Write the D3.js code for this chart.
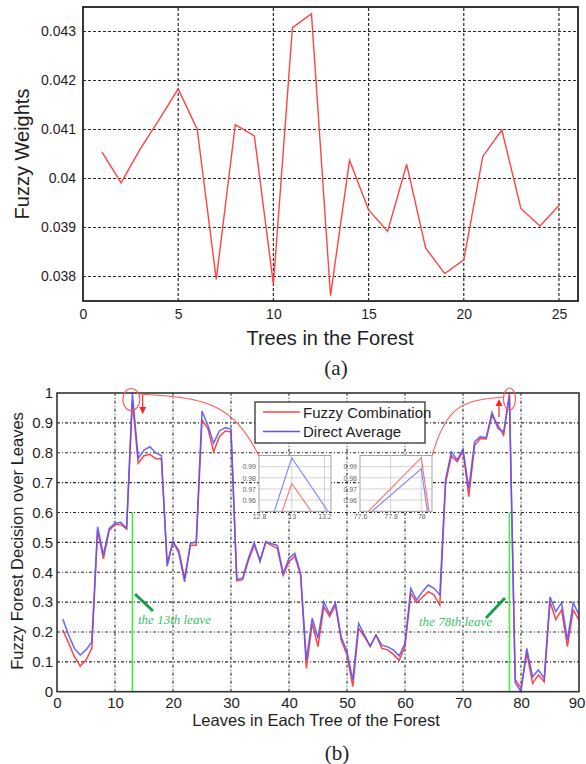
<!DOCTYPE html>
<html><head><meta charset="utf-8">
<script src="https://cdn.jsdelivr.net/npm/d3@7"></script>
<style>body{margin:0;background:#fff}text{font-family:"Liberation Sans",Arial,sans-serif}</style>
</head><body><svg id="c" width="586" height="764"></svg>
<script>
// ---------- data: chart (a) ----------
const trees = d3.range(1, 26);
const fuzzyWeights = [0.04054,0.03991,0.0406,0.0412,0.04183,0.04100,0.03794,0.04110,0.04087,0.03784,
  0.04308,0.04336,0.03761,0.04037,0.03936,0.03892,0.04029,0.03858,0.03806,0.03834,
  0.04045,0.04099,0.03939,0.03903,0.03945];
const weightTicks = [0.038,0.039,0.04,0.041,0.042,0.043];
const treeTicks = [0,5,10,15,20,25];

// ---------- data: chart (b) ----------
const leaves = d3.range(1, 91);
const fuzzyCombination = [0.207,0.163,0.117,0.086,0.106,0.145,0.54,0.445,0.54,0.56,
  0.56,0.545,0.975,0.765,0.79,0.795,0.78,0.78,0.43,0.50,
  0.474,0.38,0.49,0.49,0.91,0.882,0.804,0.854,0.873,0.87,
  0.371,0.375,0.439,0.49,0.441,0.50,0.49,0.48,0.39,0.435,
  0.454,0.39,0.078,0.229,0.151,0.285,0.251,0.29,0.173,0.123,
  0.017,0.212,0.184,0.151,0.19,0.145,0.14,0.125,0.105,0.151,
  0.329,0.298,0.316,0.335,0.324,0.29,0.70,0.79,0.77,0.806,
  0.653,0.824,0.848,0.846,0.926,0.893,0.859,0.998,0.04,0.012,
  0.129,0.028,0.056,0.033,0.301,0.242,0.274,0.151,0.274,0.24];
const directAverage = [0.243,0.19,0.145,0.123,0.14,0.167,0.552,0.458,0.547,0.564,
  0.567,0.547,0.998,0.781,0.809,0.82,0.80,0.79,0.42,0.505,
  0.463,0.368,0.497,0.50,0.94,0.893,0.832,0.873,0.884,0.879,
  0.376,0.38,0.447,0.50,0.435,0.503,0.495,0.49,0.396,0.447,
  0.463,0.396,0.106,0.246,0.179,0.301,0.26,0.298,0.184,0.134,
  0.039,0.229,0.19,0.153,0.19,0.156,0.15,0.14,0.12,0.162,
  0.346,0.307,0.335,0.357,0.346,0.324,0.71,0.803,0.776,0.812,
  0.681,0.837,0.854,0.85,0.935,0.882,0.87,0.988,0.03,0.0,
  0.145,0.05,0.073,0.045,0.318,0.268,0.298,0.173,0.298,0.257];
const leafTicks = [0,10,20,30,40,50,60,70,80,90];
const decisionTicks = [0,0.1,0.2,0.3,0.4,0.5,0.6,0.7,0.8,0.9,1];
const inset1XTicks = [12.8,13,13.2];
const inset2XTicks = [77.6,77.8,78];
const insetYTicks = [0.96,0.97,0.98,0.99];
const markedLeaves = [13,78];
const seriesNames = ["Fuzzy Combination","Direct Average"];

const RED = "#ff4444", BLUE = "#5555ff", TXT = "#1e1e1e";
const svg = d3.select("#c");
svg.append("rect").attr("width",586).attr("height",764).attr("fill","#fff");
const fmt = d3.format("");

// ================= chart (a) =================
const xA = d3.scaleLinear().domain([0,26]).range([83,578]);
const yA = d3.scaleLinear().domain([0.0375,0.0435]).range([301,7]);
const gA = svg.append("g");
gA.selectAll("line.hg").data(weightTicks).join("line")
  .attr("x1",xA.range()[0]).attr("x2",xA.range()[1])
  .attr("y1",d=>yA(d)).attr("y2",d=>yA(d))
  .attr("stroke","#2a2a2a").attr("stroke-width",1.2).attr("stroke-dasharray","3,2");
gA.selectAll("line.vg").data(treeTicks.filter(d=>d>0)).join("line")
  .attr("y1",yA.range()[0]).attr("y2",yA.range()[1])
  .attr("x1",d=>xA(d)).attr("x2",d=>xA(d))
  .attr("stroke","#2a2a2a").attr("stroke-width",1.2).attr("stroke-dasharray","3,2");
gA.append("path").datum(fuzzyWeights)
  .attr("d", d3.line().x((d,i)=>xA(trees[i])).y(d=>yA(d)))
  .attr("fill","none").attr("stroke",RED).attr("stroke-width",1.4);
gA.append("rect").attr("x",83).attr("y",7).attr("width",495).attr("height",294)
  .attr("fill","none").attr("stroke","#222").attr("stroke-width",1.8);
const axA1 = gA.append("g").attr("transform","translate(83,0)")
  .call(d3.axisLeft(yA).tickValues(weightTicks).tickFormat(fmt).tickSize(0).tickPadding(7));
const axA2 = gA.append("g").attr("transform","translate(0,301)")
  .call(d3.axisBottom(xA).tickValues(treeTicks).tickFormat(fmt).tickSize(0).tickPadding(8));
[axA1,axA2].forEach(a=>{a.select(".domain").remove();
  a.selectAll("text").attr("font-size",14).attr("fill",TXT).style("font-family","Liberation Sans, Arial");});
gA.append("text").attr("transform","translate(29,154) rotate(-90)").attr("text-anchor","middle")
  .attr("font-size",20).attr("fill",TXT).text("Fuzzy Weights");
gA.append("text").attr("x",330).attr("y",345).attr("text-anchor","middle")
  .attr("font-size",20).attr("fill",TXT).text("Trees in the Forest");
svg.append("text").attr("x",336).attr("y",375).attr("text-anchor","middle")
  .style("font-family","Liberation Serif, Times New Roman, serif").attr("font-size",21).attr("fill",TXT).text("(a)");

// ================= chart (b) =================
const xB = d3.scaleLinear().domain([0,90]).range([57,579]);
const yB = d3.scaleLinear().domain([0,1]).range([691.7,393]);
const gB = svg.append("g");
gB.selectAll("line.hg").data(decisionTicks.filter(d=>d>0&&d<1)).join("line")
  .attr("x1",xB.range()[0]).attr("x2",xB.range()[1])
  .attr("y1",d=>yB(d)).attr("y2",d=>yB(d))
  .attr("stroke","#2a2a2a").attr("stroke-width",1.1).attr("stroke-dasharray","3,2,1,2");
gB.selectAll("line.vg").data(leafTicks.filter(d=>d>0&&d<90)).join("line")
  .attr("y1",yB.range()[0]).attr("y2",yB.range()[1])
  .attr("x1",d=>xB(d)).attr("x2",d=>xB(d))
  .attr("stroke","#2a2a2a").attr("stroke-width",1.1).attr("stroke-dasharray","3,2,1,2");

// green markers
gB.selectAll("line.gm").data(markedLeaves).join("line")
  .attr("x1",d=>xB(d)).attr("x2",d=>xB(d)).attr("y1",yB(0)).attr("y2",yB(0.6))
  .attr("stroke","#44ee44").attr("stroke-width",1.6);

const lineB = d3.line().x((d,i)=>xB(leaves[i])).y(d=>yB(d));
gB.append("path").datum(fuzzyCombination).attr("d",lineB)
  .attr("fill","none").attr("stroke",RED).attr("stroke-width",1.5);
gB.append("path").datum(directAverage).attr("d",lineB)
  .attr("fill","none").attr("stroke",BLUE).attr("stroke-width",1.5).attr("stroke-opacity",0.9);

gB.append("rect").attr("x",57).attr("y",393).attr("width",522).attr("height",298.7)
  .attr("fill","none").attr("stroke","#333").attr("stroke-width",1.6);
const axB1 = gB.append("g").attr("transform","translate(57,0)")
  .call(d3.axisLeft(yB).tickValues(decisionTicks).tickFormat(fmt).tickSize(0).tickPadding(4));
const axB2 = gB.append("g").attr("transform","translate(0,691.7)")
  .call(d3.axisBottom(xB).tickValues(leafTicks).tickFormat(fmt).tickSize(0).tickPadding(6));
[axB1,axB2].forEach(a=>{a.select(".domain").remove();
  a.selectAll("text").attr("font-size",15).attr("fill",TXT).style("font-family","Liberation Sans, Arial");});
axB2.selectAll(".tick").filter(d=>d===90).select("text").attr("dx",-2.5);
gB.append("text").attr("transform","translate(23,541) rotate(-90)").attr("text-anchor","middle")
  .attr("font-size",16.5).attr("fill",TXT).text("Fuzzy Forest Decision over Leaves");
gB.append("text").attr("x",316).attr("y",726).attr("text-anchor","middle")
  .attr("font-size",16.5).attr("fill",TXT).text("Leaves in Each Tree of the Forest");
svg.append("text").attr("x",337).attr("y",760).attr("text-anchor","middle")
  .style("font-family","Liberation Serif, Times New Roman, serif").attr("font-size",21).attr("fill",TXT).text("(b)");

// annotations (green)
const ann = [{seg:[[135,594],[153,611]], tx:138, ty:624, label:"the 13th leave"},
             {seg:[[505,598],[486,618]], tx:419, ty:626, label:"the 78th leave"}];
ann.forEach(a=>{
  gB.append("line").attr("x1",a.seg[0][0]).attr("y1",a.seg[0][1]).attr("x2",a.seg[1][0]).attr("y2",a.seg[1][1])
    .attr("stroke","#16a04a").attr("stroke-width",3);
  gB.append("text").attr("x",a.tx).attr("y",a.ty).attr("font-size",13).attr("font-style","italic")
    .style("font-family","Liberation Serif, Times New Roman, serif").attr("fill","#3cbf6a").text(a.label);
});

// red circles + arrows + connectors
const PINK = "#ff5a5a";
gB.append("ellipse").attr("cx",131.3).attr("cy",399.5).attr("rx",8.5).attr("ry",11)
  .attr("fill","none").attr("stroke",PINK).attr("stroke-width",1.2);
gB.append("ellipse").attr("cx",509.5).attr("cy",399).attr("rx",6).attr("ry",11)
  .attr("fill","none").attr("stroke",PINK).attr("stroke-width",1.2);
gB.append("line").attr("x1",142.7).attr("x2",142.7).attr("y1",395).attr("y2",408).attr("stroke","#f22").attr("stroke-width",1.2);
gB.append("path").attr("d","M139.2,407 L146.2,407 L142.7,414 Z").attr("fill","#f22");
gB.append("line").attr("x1",499).attr("x2",499).attr("y1",417).attr("y2",405).attr("stroke","#f22").attr("stroke-width",1.2);
gB.append("path").attr("d","M495.5,406 L502.5,406 L499,399 Z").attr("fill","#f22");
gB.append("path").attr("d","M140,394 C205,398 232,402 259,456").attr("fill","none").attr("stroke",PINK).attr("stroke-width",1.1);
gB.append("path").attr("d","M432,456 C446,406 462,400 504,397").attr("fill","none").attr("stroke",PINK).attr("stroke-width",1.1);

// legend
const lg = gB.append("g");
lg.append("rect").attr("x",255).attr("y",402).attr("width",170).attr("height",41)
  .attr("fill","#fff").attr("stroke","#333").attr("stroke-width",1.3);
[RED,BLUE].forEach((c,i)=>{
  const y = 412 + i*19.5;
  lg.append("line").attr("x1",263).attr("x2",300).attr("y1",y).attr("y2",y).attr("stroke",c).attr("stroke-width",1.4);
  lg.append("text").attr("x",303).attr("y",y+5.5).attr("font-size",15).attr("fill",TXT).text(seriesNames[i]);
});

// insets
function inset(x0, xdom, xticks, id){
  const xs = d3.scaleLinear().domain(xdom).range([x0, x0+72]);
  const ys = d3.scaleLinear().domain([0.95,1.0]).range([511.3,455.5]);
  const g = gB.append("g");
  g.append("rect").attr("x",x0).attr("y",455.5).attr("width",72).attr("height",55.8).attr("fill","#fff");
  g.selectAll("line.ih").data(insetYTicks).join("line")
    .attr("x1",x0).attr("x2",x0+72).attr("y1",d=>ys(d)).attr("y2",d=>ys(d)).attr("stroke","#c8c8c8").attr("stroke-width",0.8);
  g.selectAll("line.iv").data(xticks.slice(1)).join("line")
    .attr("y1",455.5).attr("y2",511.3).attr("x1",d=>xs(d)).attr("x2",d=>xs(d)).attr("stroke","#c8c8c8").attr("stroke-width",0.8);
  svg.append("clipPath").attr("id",id).append("rect").attr("x",x0).attr("y",455.5).attr("width",72).attr("height",55.8);
  const ln = d3.line().x((d,i)=>xs(leaves[i])).y(d=>ys(d));
  const cg = g.append("g").attr("clip-path",`url(#${id})`);
  cg.append("path").datum(fuzzyCombination).attr("d",ln).attr("fill","none").attr("stroke","#ff7070").attr("stroke-width",1.1);
  cg.append("path").datum(directAverage).attr("d",ln).attr("fill","none").attr("stroke","#8080ff").attr("stroke-width",1.1);
  g.append("rect").attr("x",x0).attr("y",455.5).attr("width",72).attr("height",55.8)
    .attr("fill","none").attr("stroke","#999").attr("stroke-width",0.9);
  const a1 = g.append("g").attr("transform",`translate(${x0},0)`)
    .call(d3.axisLeft(ys).tickValues(insetYTicks).tickFormat(d3.format(".2f")).tickSize(0).tickPadding(3));
  const a2 = g.append("g").attr("transform","translate(0,511.3)")
    .call(d3.axisBottom(xs).tickValues(xticks).tickFormat(fmt).tickSize(0).tickPadding(3));
  [a1,a2].forEach(a=>{a.select(".domain").remove();
    a.selectAll("text").attr("font-size",7).attr("fill","#666").style("font-family","Liberation Sans, Arial");});
}
inset(259, [12.8,13.24], inset1XTicks, "clip1");
inset(360, [77.6,78.07], inset2XTicks, "clip2");
</script></body></html>
